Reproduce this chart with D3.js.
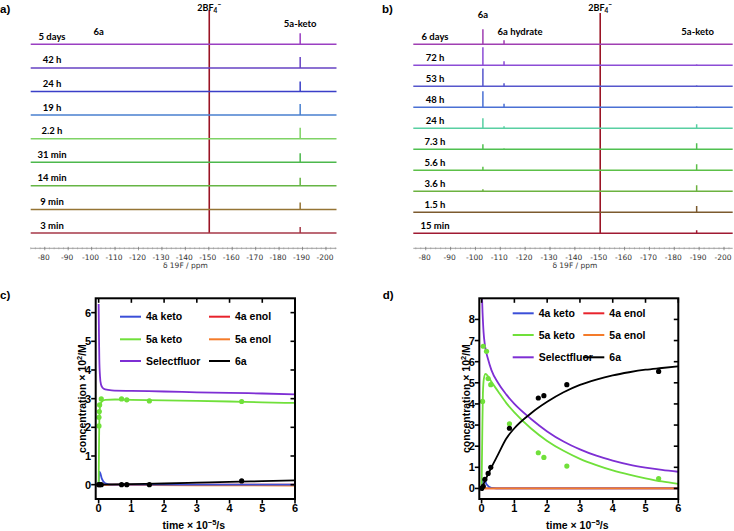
<!DOCTYPE html>
<html><head><meta charset="utf-8">
<script src="https://cdn.jsdelivr.net/npm/d3@7"></script>
<style>body{margin:0;background:#fff}</style>
</head><body><svg id="chart" width="734" height="531"></svg>
<script>
// ---------------- DATA ----------------
// NMR spectra (panel a)
const aRows = ["5 days","42 h","24 h","19 h","2.2 h","31 min","14 min","9 min","3 min"];
const aColors = ["#9a3fc2","#6743c4","#3a3fc8","#4a80d0","#7fd366","#4cb84c","#66b544","#957434","#a63848"];
const a6a = [0.8,0,0,0,0,0,0,0,0];
const a5aKeto = [11,11,10,11,11,9,8,7,6];
// NMR spectra (panel b)
const bRows = ["6 days","72 h","53 h","48 h","24 h","7.3 h","5.6 h","3.6 h","1.5 h","15 min"];
const bColors = ["#a03fb2","#8c4cd6","#5656cc","#4a70d4","#58cfa2","#4fc050","#5cc048","#6cb240","#7c5a2e","#a01a32"];
const b6a = [15,18,17.7,16,10,5,3.5,2,0,0];
const bHydrate = [4,4,3,3.5,2,1,0,0,0,0];
const b5aKeto = [0,1,1,1,4,6,6,6,6.3,3];
// chemical shifts (ppm)
const shift6a = -103, shiftHydrate = -111.5, shiftBF4 = -150.2, shift5aKeto = -189;
const ppmTicks = [-80,-90,-100,-110,-120,-130,-140,-150,-160,-170,-180,-190,-200];

// Kinetics panel c
const cSelectfluor = [[0,6.3],[0.01,5.2],[0.02,4.4],[0.04,3.8],[0.07,3.5],[0.12,3.38],[0.2,3.32],[0.4,3.29],[1,3.27],[2,3.25],[3,3.22],[4,3.2],[5,3.18],[6,3.15]];
const c5aKetoFit = [[0,0],[0.01,1.2],[0.02,2.2],[0.04,2.7],[0.07,2.85],[0.12,2.92],[0.2,2.96],[0.5,2.97],[1,2.96],[2,2.94],[3,2.92],[4,2.9],[5,2.87],[6,2.85]];
const c4aKetoFit = [[0,0],[0.02,0.45],[0.05,0.4],[0.1,0.2],[0.2,0.05],[0.4,0],[6,0]];
const c4aEnolFit = [[0,0],[6,0]];
const c5aEnolFit = [[0,0],[1,-0.01],[3,-0.02],[6,-0.03]];
const c6aFit = [[0,0],[1,0.02],[2,0.04],[3,0.07],[4,0.1],[5,0.12],[6,0.15]];
const c5aKetoPts = [[0.01,2.05],[0.01,2.35],[0.02,2.55],[0.03,2.78],[0.08,2.99],[0.7,2.99],[0.86,2.96],[1.55,2.92],[4.37,2.9]];
const c6aPts = [[0,0],[0.03,0],[0.08,0],[0.7,0],[0.86,0],[1.55,0],[4.37,0.13]];

// Kinetics panel d
const dSelectfluor = [[0,9.6],[0.03,8.3],[0.06,7.4],[0.1,6.8],[0.2,6.1],[0.3,5.6],[0.5,5.0],[0.75,4.45],[1,4.0],[1.5,3.3],[2,2.7],[2.5,2.22],[3,1.85],[3.5,1.55],[4,1.32],[4.5,1.13],[5,0.99],[5.5,0.88],[6,0.79]];
const d5aKetoFit = [[0,0],[0.02,2.5],[0.04,4.5],[0.07,5.2],[0.12,5.42],[0.2,5.3],[0.3,5.05],[0.5,4.6],[0.75,4.05],[1,3.6],[1.5,2.85],[2,2.25],[2.5,1.78],[3,1.4],[3.5,1.1],[4,0.85],[4.5,0.65],[5,0.48],[5.5,0.33],[6,0.22]];
const d4aKetoFit = [[0,0],[0.03,0.35],[0.08,0.45],[0.15,0.2],[0.3,0.03],[0.6,0],[6,0]];
const d4aEnolFit = [[0,0],[6,0]];
const d5aEnolFit = [[0,0],[6,0]];
const d6aFit = [[0,0],[0.1,0.35],[0.2,0.68],[0.3,1.0],[0.5,1.6],[0.75,2.35],[1,2.85],[1.5,3.55],[2,4.1],[2.5,4.55],[3,4.9],[3.5,5.15],[4,5.35],[4.5,5.5],[5,5.62],[5.5,5.7],[6,5.78]];
const d5aKetoPts = [[0.03,4.12],[0.05,6.73],[0.15,6.49],[0.2,5.2],[0.28,4.91],[0.85,3.06],[1.73,1.69],[1.9,1.47],[2.6,1.06],[5.4,0.47]];
const d6aPts = [[0,0],[0.05,0.1],[0.1,0.43],[0.2,0.71],[0.28,1.0],[0.85,2.85],[1.73,4.28],[1.9,4.39],[2.6,4.91],[5.4,5.54]];

const xTicksKin = [0,1,2,3,4,5,6];
const legendNames = ["4a keto","4a enol","5a keto","5a enol","Selectfluor","6a"];
const kinColors = {"4a keto":"#3b4fd8","4a enol":"#e8232c","5a keto":"#70e03a","5a enol":"#f47b2a","Selectfluor":"#7e2fd4","6a":"#000000"};

// ---------------- DRAW ----------------
const svg = d3.select("#chart");
const labelFont = "Lato, 'Open Sans', sans-serif";
const arial = "'Liberation Sans', Arial, sans-serif";

function panelLetter(t, x, y){
  svg.append("text").attr("x",x).attr("y",y).text(t)
    .attr("font-family",arial).attr("font-weight","bold").attr("font-size",11.5);
}

function drawSpectra(cfg){
  const g = svg.append("g");
  const x = d3.scaleLinear().domain(cfg.domain).range(cfg.range);
  const y = d3.scalePoint().domain(cfg.rows).range(cfg.rowRange);
  const h = d3.scaleLinear().domain([0,1]).range([0,-1]);
  const line = d3.line().x(d=>x(d[0])).y(d=>d[1]);
  // red BF4 line
  g.append("line").attr("x1",x(shiftBF4)).attr("x2",x(shiftBF4))
    .attr("y1",cfg.bf4Top).attr("y2",cfg.rowRange[1])
    .attr("stroke","#9a1424").attr("stroke-width",1.6);
  cfg.rows.forEach((r,i)=>{
    const by = y(r);
    const peaks = cfg.peaks.map(p=>({ppm:p.ppm, v:p.vals[i]})).filter(p=>p.v>0).sort((a,b)=>b.ppm-a.ppm);
    const pts = [[cfg.domain[0],by]];
    peaks.forEach(p=>{ pts.push([p.ppm,by]); pts.push([p.ppm,by+h(p.v)]); pts.push([p.ppm,by]); });
    pts.push([cfg.domain[1],by]);
    g.append("path").attr("d",line(pts)).attr("fill","none")
      .attr("stroke",cfg.colors[i]).attr("stroke-width",1.5);
    g.append("text").attr("x",cfg.labelX).attr("y",by-4.5).attr("text-anchor","middle")
      .attr("font-family",labelFont).attr("font-weight","bold").attr("font-size",9.5).text(r);
  });
  // axis
  const ay = 248.3;
  g.append("line").attr("x1",cfg.range[0]).attr("x2",cfg.range[1]).attr("y1",ay).attr("y2",ay)
    .attr("stroke","#888").attr("stroke-width",0.8);
  const minor = d3.range(-74,-205,-2).filter(v=>v<=cfg.domain[0] && v>=cfg.domain[1]);
  g.selectAll(null).data(minor).enter().append("line")
    .attr("x1",d=>x(d)).attr("x2",d=>x(d)).attr("y1",ay-1).attr("y2",ay+1)
    .attr("stroke","#999").attr("stroke-width",0.6);
  g.selectAll(null).data(ppmTicks).enter().append("line")
    .attr("x1",d=>x(d)).attr("x2",d=>x(d)).attr("y1",ay-1.5).attr("y2",ay+2)
    .attr("stroke","#777").attr("stroke-width",0.7);
  g.selectAll(null).data(ppmTicks).enter().append("text")
    .attr("x",d=>x(d)-1).attr("y",260).attr("text-anchor","middle")
    .attr("font-family","'DejaVu Sans', sans-serif").attr("font-size",7.5).attr("fill","#333")
    .text(d=>"-"+Math.abs(d));
  g.append("text").attr("x",x(-140)).attr("y",267.5).attr("text-anchor","middle")
    .attr("font-family","'DejaVu Sans', sans-serif").attr("font-size",7.5).attr("fill","#333")
    .text("\u03b4 19F / ppm");
  // peak labels
  cfg.peakLabels.forEach(p=>{
    g.append("text").attr("x",x(p.ppm)+(p.dx||0)).attr("y",p.y).attr("text-anchor","middle")
      .attr("font-family",labelFont).attr("font-weight","bold").attr("font-size",9.5).text(p.t);
  });
  const bt = g.append("text").attr("x",x(shiftBF4)).attr("y",cfg.bf4LabelY).attr("text-anchor","middle")
    .attr("font-family",labelFont).attr("font-weight","bold").attr("font-size",9);
  bt.append("tspan").text("2BF");
  bt.append("tspan").attr("font-size",6.5).attr("dy",2).text("4");
  bt.append("tspan").attr("font-size",6.5).attr("dy",-6).text("\u2212");
}

drawSpectra({
  rows:aRows, colors:aColors, domain:[-74,-204.5], range:[30.7,336.5], rowRange:[44.3,233],
  labelX:52, bf4Top:10, bf4LabelY:11,
  peaks:[{ppm:shift6a, vals:a6a},{ppm:shift5aKeto, vals:a5aKeto}],
  peakLabels:[{ppm:shift6a,t:"6a",y:35},{ppm:shift5aKeto,t:"5a-keto",y:27}]
});
drawSpectra({
  rows:bRows, colors:bColors, domain:[-75,-203.5], range:[413.3,732.7], rowRange:[44.3,233.3],
  labelX:435, bf4Top:13, bf4LabelY:11,
  peaks:[{ppm:shift6a, vals:b6a},{ppm:shiftHydrate, vals:bHydrate},{ppm:shift5aKeto, vals:b5aKeto}],
  peakLabels:[{ppm:shift6a,t:"6a",y:18},{ppm:shiftHydrate,t:"6a hydrate",y:35,dx:16},{ppm:shift5aKeto,t:"5a-keto",y:35,dx:1}]
});
panelLetter("a)",0,12.5);
panelLetter("b)",382,12.5);

let clipId = 0;
function drawKin(cfg){
  const g = svg.append("g");
  const x = d3.scaleLinear().domain(cfg.xDomain).range([cfg.left,cfg.right]);
  const y = d3.scaleLinear().domain(cfg.yDomain).range([cfg.bottom,cfg.top]);
  const id = "clip"+(clipId++);
  svg.append("clipPath").attr("id",id).append("rect")
    .attr("x",cfg.left).attr("y",cfg.top).attr("width",cfg.right-cfg.left).attr("height",cfg.bottom-cfg.top);
  const line = d3.line().x(d=>x(d[0])).y(d=>y(d[1])).curve(d3.curveMonotoneX);
  const plot = g.append("g").attr("clip-path",`url(#${id})`);
  cfg.series.forEach(s=>{
    plot.append("path").attr("d",line(s.data)).attr("fill","none")
      .attr("stroke",kinColors[s.name]).attr("stroke-width",1.8);
  });
  cfg.points.forEach(s=>{
    plot.selectAll(null).data(s.data).enter().append("circle")
      .attr("cx",d=>x(d[0])).attr("cy",d=>y(d[1])).attr("r",2.6)
      .attr("fill",kinColors[s.name]);
  });
  // frame
  g.append("rect").attr("x",cfg.left).attr("y",cfg.top).attr("width",cfg.right-cfg.left)
    .attr("height",cfg.bottom-cfg.top).attr("fill","none").attr("stroke","#000").attr("stroke-width",2);
  const tl = 4.5;
  // bottom (outward) and top (inward) ticks
  xTicksKin.forEach(t=>{
    g.append("line").attr("x1",x(t)).attr("x2",x(t)).attr("y1",cfg.bottom).attr("y2",cfg.bottom+tl).attr("stroke","#000").attr("stroke-width",1.6);
    g.append("line").attr("x1",x(t)).attr("x2",x(t)).attr("y1",cfg.top).attr("y2",cfg.top+tl).attr("stroke","#000").attr("stroke-width",1.6);
    g.append("text").attr("x",x(t)).attr("y",511.7).attr("text-anchor","middle")
      .attr("font-family",arial).attr("font-weight","bold").attr("font-size",11).text(t);
  });
  cfg.yTicks.forEach(t=>{
    g.append("line").attr("x1",cfg.left-tl).attr("x2",cfg.left).attr("y1",y(t)).attr("y2",y(t)).attr("stroke","#000").attr("stroke-width",1.6);
    g.append("line").attr("x1",cfg.right-tl).attr("x2",cfg.right).attr("y1",y(t)).attr("y2",y(t)).attr("stroke","#000").attr("stroke-width",1.6);
    g.append("text").attr("x",cfg.left-4.5).attr("y",y(t)).attr("dy","0.36em").attr("text-anchor","end")
      .attr("font-family",arial).attr("font-weight","bold").attr("font-size",11).text(t);
  });
  // axis titles
  const yt = g.append("text").attr("transform",`translate(${cfg.left-9.5},${(cfg.top+cfg.bottom)/2}) rotate(-90)`)
    .attr("text-anchor","middle").attr("font-family",arial).attr("font-weight","bold").attr("font-size",10.5);
  yt.append("tspan").text("concentration \u00d7 10");
  yt.append("tspan").attr("font-size",7.5).attr("dy",-4).text("2");
  yt.append("tspan").attr("dy",4).text("/M");
  const xt = g.append("text").attr("x",(cfg.left+cfg.right)/2-1.5).attr("y",529.3)
    .attr("text-anchor","middle").attr("font-family",arial).attr("font-weight","bold").attr("font-size",10.5);
  xt.append("tspan").text("time \u00d7 10");
  xt.append("tspan").attr("font-size",7.5).attr("dy",-4).text("\u22125");
  xt.append("tspan").attr("dy",4).text("/s");
  // legend
  legendNames.forEach((n,i)=>{
    const col = i%2, row = Math.floor(i/2);
    const lx = cfg.legX[col], ly = cfg.legY[row];
    g.append("line").attr("x1",lx).attr("x2",lx+21).attr("y1",ly).attr("y2",ly)
      .attr("stroke",kinColors[n]).attr("stroke-width",2);
    g.append("text").attr("x",lx+26).attr("y",ly).attr("dy","0.36em")
      .attr("font-family",arial).attr("font-weight","bold").attr("font-size",10.5).text(n);
  });
}

drawKin({
  left:95.7,right:295,top:298.3,bottom:499,xDomain:[-0.09,6],yDomain:[-0.5,6.5],
  yTicks:[0,1,2,3,4,5,6], legX:[120,209], legY:[316.7,339.3,361],
  series:[{name:"4a enol",data:c4aEnolFit},{name:"5a enol",data:c5aEnolFit},{name:"4a keto",data:c4aKetoFit},
          {name:"6a",data:c6aFit},{name:"5a keto",data:c5aKetoFit},{name:"Selectfluor",data:cSelectfluor}],
  points:[{name:"5a keto",data:c5aKetoPts},{name:"6a",data:c6aPts}]
});
drawKin({
  left:479.3,right:678.3,top:298.3,bottom:499,xDomain:[-0.07,6],yDomain:[-0.5,9],
  yTicks:[0,1,2,3,4,5,6,7,8], legX:[512.7,583.3], legY:[313.3,335,357.3],
  series:[{name:"4a enol",data:d4aEnolFit},{name:"4a keto",data:d4aKetoFit},{name:"5a enol",data:d5aEnolFit},
          {name:"5a keto",data:d5aKetoFit},{name:"Selectfluor",data:dSelectfluor},{name:"6a",data:d6aFit}],
  points:[{name:"5a keto",data:d5aKetoPts},{name:"6a",data:d6aPts}]
});
panelLetter("c)",0,299);
panelLetter("d)",382.7,299);
</script></body></html>
